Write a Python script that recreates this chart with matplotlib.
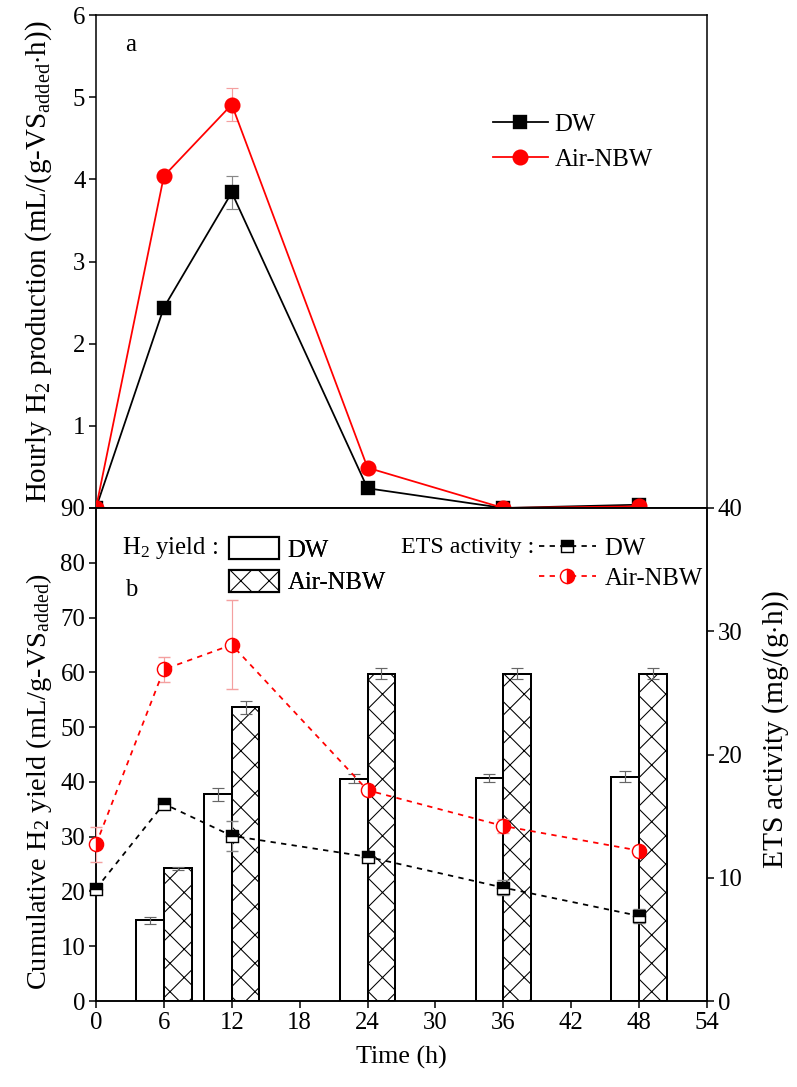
import matplotlib
matplotlib.use("Agg")
import matplotlib.pyplot as plt
from matplotlib.lines import Line2D
from matplotlib.patches import Patch
import numpy as np

# ---------------- data ----------------
t_hourly = [0, 6, 12, 24, 36, 48]
hourly_dw = [0.0, 2.44, 3.84, 0.24, 0.0, 0.04]
hourly_dw_err = [0.0, 0.08, 0.2, 0.0, 0.0, 0.0]
hourly_air = [0.0, 4.04, 4.91, 0.49, 0.0, 0.02]
hourly_air_err = [0.0, 0.0, 0.2, 0.0, 0.0, 0.0]

t_yield = [6, 12, 24, 36, 48]
yield_dw = [14.7, 37.7, 40.6, 40.7, 40.9]
yield_dw_err = [0.6, 1.1, 0.8, 0.8, 1.0]
yield_air = [24.2, 53.6, 59.7, 59.7, 59.7]
yield_air_err = [0.2, 1.2, 1.0, 1.0, 1.0]

t_ets = [0, 6, 12, 24, 36, 48]
ets_dw = [9.1, 16.0, 13.4, 11.7, 9.2, 6.9]
ets_dw_err = [0.3, 0.3, 1.2, 0.4, 0.6, 0.6]
ets_air = [12.7, 26.9, 28.9, 17.1, 14.2, 12.2]
ets_air_err = [1.4, 1.0, 3.6, 0.3, 0.6, 0.3]

x_ticks = [0, 6, 12, 18, 24, 30, 36, 42, 48, 54]

# ---------------- style ----------------
DPI = 170
FS = 10.5
plt.rcParams['font.family'] = ['Liberation Serif', 'DejaVu Serif']
plt.rcParams['mathtext.fontset'] = 'custom'
plt.rcParams['mathtext.rm'] = 'Liberation Serif'
plt.rcParams['mathtext.it'] = 'Liberation Serif:italic'
plt.rcParams['font.size'] = FS
plt.rcParams['hatch.linewidth'] = 0.45
plt.rcParams['hatch.color'] = '#7a7a7a'
plt.rcParams['axes.linewidth'] = 0.65

fig = plt.figure(figsize=(797 / DPI, 1087 / DPI), dpi=DPI)
L, R = 96 / 797, 707 / 797
ax1 = fig.add_axes([L, 1 - 508 / 1087, R - L, (508 - 15) / 1087])
ax2 = fig.add_axes([L, 1 - 1001 / 1087, R - L, (1001 - 508) / 1087])
ax3 = ax2.twinx()

tick_kw = dict(direction='out', length=3.0, width=0.65, labelsize=FS, pad=1.5)

# ---------------- panel a ----------------
ax1.errorbar(t_hourly, hourly_dw, yerr=hourly_dw_err, color='black', lw=0.75,
             marker='s', ms=5, ecolor='#888888', elinewidth=0.5, capsize=2.5, capthick=0.5,
             zorder=3)
ax1.errorbar(t_hourly, hourly_air, yerr=hourly_air_err, color='#ff0000', lw=0.75,
             marker='o', ms=5.8, ecolor='#f4a0a0', elinewidth=0.5, capsize=2.5, capthick=0.5,
             zorder=3)
ax1.set_xlim(0, 54)
ax1.set_ylim(0, 6)
ax1.set_yticks([0, 1, 2, 3, 4, 5, 6])
ax1.set_yticklabels(['', '1', '2', '3', '4', '5', '6'])
ax1.set_xticks([])
ax1.tick_params(axis='y', **tick_kw)
ax1.set_ylabel('Hourly H$_2$ production (mL/(g-VS$_{\\rm added}$$\\cdot$h))', fontsize=12.3)
ax1.yaxis.set_label_coords(-0.068, 0.5)
ax1.text(0.047, 0.94, 'a', transform=ax1.transAxes, fontsize=FS, ha='left', va='center')
h1 = [Line2D([], [], color='black', lw=0.75, marker='s', ms=5),
      Line2D([], [], color='#ff0000', lw=0.75, marker='o', ms=5.8)]
ax1.legend(h1, ['DW', 'Air-NBW'], loc='center left', bbox_to_anchor=(0.65, 0.742),
           frameon=False, handlelength=2.2, handletextpad=0.28, labelspacing=0.5,
           fontsize=FS, borderpad=0, borderaxespad=0)

# ---------------- panel b: bars ----------------
w = 2.45
xd = [t - w / 2 for t in t_yield]
xa = [t + w / 2 for t in t_yield]
ax2.bar(xd, yield_dw, width=w, facecolor='white', edgecolor='black', linewidth=0.85, zorder=2)
ax2.bar(xa, yield_air, width=w, facecolor='white', edgecolor='black', linewidth=0.85,
        hatch='xx', zorder=2)
ax2.errorbar(xd, yield_dw, yerr=yield_dw_err, fmt='none', ecolor='#666666',
             elinewidth=0.5, capsize=2.5, capthick=0.5, zorder=3)
ax2.errorbar(xa, yield_air, yerr=yield_air_err, fmt='none', ecolor='#666666',
             elinewidth=0.5, capsize=2.5, capthick=0.5, zorder=3)
ax2.set_xlim(0, 54)
ax2.set_ylim(0, 90)
ax2.set_yticks(range(0, 91, 10))
ax2.set_xticks(x_ticks)
ax2.tick_params(axis='both', **tick_kw)
ax2.set_ylabel('Cumulative H$_2$ yield (mL/g-VS$_{\\rm added}$)', fontsize=12)
ax2.yaxis.set_label_coords(-0.068, 0.446)
ax2.set_xlabel('Time (h)', fontsize=11, labelpad=5)
ax2.text(0.047, 0.834, 'b', transform=ax2.transAxes, fontsize=FS, ha='left', va='center')

# ---------------- panel b: ETS ----------------
ax3.errorbar(t_ets, ets_dw, yerr=ets_dw_err, color='black', lw=0.75, ls=(0, (3, 3)),
             marker='s', ms=5.2, fillstyle='top', markerfacecoloralt='white',
             markeredgewidth=0.6, ecolor='#888888', elinewidth=0.5, capsize=2.5,
             capthick=0.5, zorder=4, clip_on=False)
ax3.errorbar(t_ets, ets_air, yerr=ets_air_err, color='#ff0000', lw=0.75, ls=(0, (3, 3)),
             marker='o', ms=6, fillstyle='right', markerfacecoloralt='white',
             markeredgewidth=0.6, ecolor='#f4a0a0', elinewidth=0.5, capsize=2.5,
             capthick=0.5, zorder=4, clip_on=False)
ax3.set_ylim(0, 40)
ax3.set_yticks([0, 10, 20, 30, 40])
ax3.tick_params(axis='y', **tick_kw)
ax3.set_ylabel('ETS activity (mg/(g$\\cdot$h))', fontsize=12.5)
ax3.yaxis.set_label_coords(1.088, 0.55)
for a in (ax1, ax2, ax3):
    for s in a.spines.values():
        s.set_linewidth(0.65)

# legends
ax2.text(0.0425, 0.919, 'H$_2$ yield :', transform=ax2.transAxes, fontsize=FS,
         ha='left', va='center')
hb = [Patch(facecolor='white', edgecolor='black', linewidth=0.9),
      Patch(facecolor='white', edgecolor='black', linewidth=0.9, hatch='xx')]
leg2 = ax2.legend(hb, ['DW', 'Air-NBW'], loc='center left', bbox_to_anchor=(0.218, 0.883),
                  frameon=False, handlelength=2.0, handleheight=1.0, handletextpad=0.35,
                  labelspacing=0.33, fontsize=FS, borderpad=0, borderaxespad=0)
ax2.add_artist(leg2)
ax3.text(0.5, 0.919, 'ETS activity :', transform=ax3.transAxes, fontsize=10.2,
         ha='left', va='center')
he = [Line2D([], [], color='black', lw=0.75, ls=(0, (3, 3)), marker='s', ms=5.2,
             fillstyle='top', markerfacecoloralt='white', markeredgewidth=0.6),
      Line2D([], [], color='#ff0000', lw=0.75, ls=(0, (3, 3)), marker='o', ms=6,
             fillstyle='right', markerfacecoloralt='white', markeredgewidth=0.6)]
ax3.legend(he, ['DW', 'Air-NBW'], loc='center left', bbox_to_anchor=(0.725, 0.887),
           frameon=False, handlelength=2.3, handletextpad=0.35, labelspacing=0.3,
           fontsize=FS, borderpad=0, borderaxespad=0)

fig.savefig('out.png', dpi=DPI)
